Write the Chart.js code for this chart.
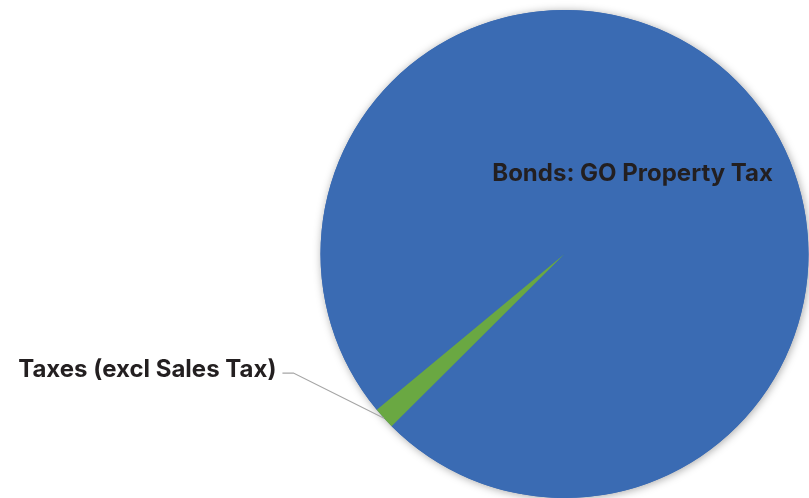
<!DOCTYPE html>
<html>
<head>
<meta charset="utf-8">
<script src="https://cdn.jsdelivr.net/npm/chart.js@4"></script>
<style>
  html, body { margin: 0; padding: 0; background: #fff; }
  #wrap { width: 809px; height: 498px; }
</style>
</head>
<body>
<div id="wrap"><canvas id="revenuePie" width="809" height="498"></canvas></div>
<script>
// Revenue sources (share of total, %)
const categories = ['Bonds: GO Property Tax', 'Taxes (excl Sales Tax)'];
const shares = [98.56, 1.44];
const sliceColors = ['#3A6BB3', '#6AA842'];

// soft shadow behind the whole pie, like the original
const pieShadow = {
    id: 'pieShadow',
    beforeDatasetsDraw(chart) {
        const arc = chart.getDatasetMeta(0).data[0];
        const ctx = chart.ctx;
        ctx.save();
        ctx.shadowColor = 'rgba(0, 0, 0, 0.35)';
        ctx.shadowBlur = 9;
        ctx.shadowOffsetX = 1;
        ctx.shadowOffsetY = 1;
        ctx.fillStyle = sliceColors[0];
        ctx.beginPath();
        ctx.arc(arc.x, arc.y, arc.outerRadius, 0, Math.PI * 2);
        ctx.fill();
        ctx.restore();
    }
};

// data labels: one inside the big slice, one outside with a leader line
const sliceLabels = {
    id: 'sliceLabels',
    afterDatasetsDraw(chart) {
        const ctx = chart.ctx;
        const meta = chart.getDatasetMeta(0);
        const big = meta.data[0];
        const small = meta.data[1];
        const r = big.outerRadius;
        ctx.save();
        ctx.font = 'bold 24px Inter, "Noto Sans", sans-serif';
        ctx.fillStyle = '#231F20';
        ctx.textBaseline = 'middle';

        // label inside the big slice
        ctx.textAlign = 'left';
        ctx.fillText(categories[0], big.x - 0.296 * r, big.y - 0.328 * r);

        // small slice: leader line from outer edge to the label on the left
        const mid = (small.startAngle + small.endAngle) / 2;
        const ex = small.x + Math.cos(mid) * r;
        const ey = small.y + Math.sin(mid) * r;
        const ly = big.y + 0.488 * r;
        const lx = small.x - 1.156 * r;
        ctx.strokeStyle = '#A6A6A6';
        ctx.lineWidth = 1.2;
        ctx.beginPath();
        ctx.moveTo(ex, ey);
        ctx.lineTo(lx + 11, ly);
        ctx.lineTo(lx, ly);
        ctx.stroke();
        ctx.textAlign = 'right';
        ctx.fillText(categories[1], lx - 6, ly - 3);
        ctx.restore();
    }
};

new Chart(document.getElementById('revenuePie').getContext('2d'), {
    type: 'pie',
    data: {
        labels: categories,
        datasets: [{
            data: shares,
            backgroundColor: sliceColors,
            borderWidth: 0
        }]
    },
    options: {
        responsive: false,
        animation: false,
        rotation: 230.3,
        layout: { padding: { left: 320, right: 0, top: 10, bottom: 0 } },
        plugins: {
            legend: { display: false },
            tooltip: { enabled: false }
        }
    },
    plugins: [pieShadow, sliceLabels]
});
</script>
</body>
</html>
